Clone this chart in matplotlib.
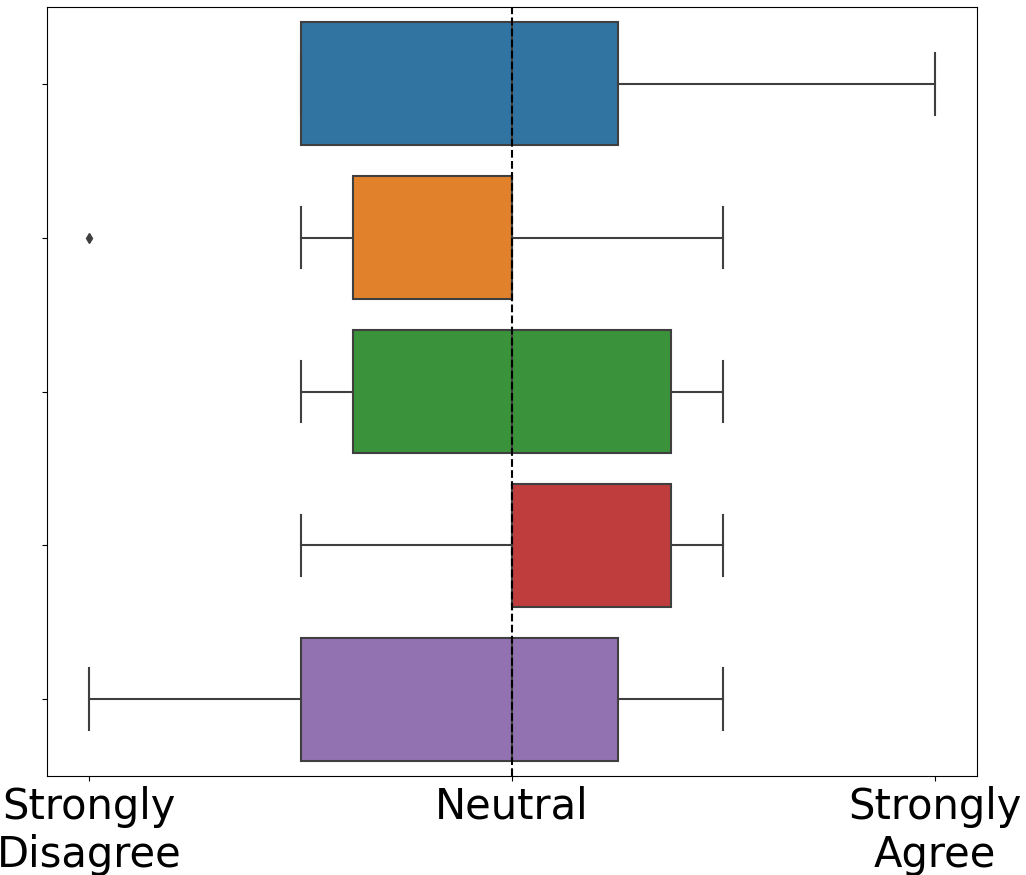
import matplotlib
matplotlib.use("Agg")
import matplotlib.pyplot as plt

# Likert scale 1..5, per-question box statistics
QUESTIONS = ["Q1", "Q2", "Q3", "Q4", "Q5"]
WHISK_LO = [2.0, 2.0, 2.0, 2.0, 1.0]
Q1 = [2.0, 2.25, 2.25, 3.0, 2.0]
MEDIAN = [3.0, 3.0, 3.0, 3.0, 3.0]
Q3 = [3.5, 3.0, 3.75, 3.75, 3.5]
WHISK_HI = [5.0, 4.0, 4.0, 4.0, 4.0]
OUTLIERS = [[], [1.0], [], [], []]

TICK_VALUES = [1, 3, 5]
TICK_LABELS = ["Strongly\nDisagree", "Neutral", "Strongly\nAgree"]

COLORS = ["#3274a1", "#e1812c", "#3a923a", "#c03d3e", "#9372b2"]
EDGE = "#3f3f3f"

stats = []
for i, name in enumerate(QUESTIONS):
    stats.append(dict(label=name, whislo=WHISK_LO[i], q1=Q1[i], med=MEDIAN[i],
                      q3=Q3[i], whishi=WHISK_HI[i], fliers=OUTLIERS[i]))

fig = plt.figure(figsize=(10.26, 8.75), dpi=100)
ax = fig.add_axes([47 / 1026, 1 - 776 / 875, 930 / 1026, 769 / 875])

line_kw = dict(color=EDGE, linewidth=1.5)
bp = ax.bxp(stats, positions=range(len(QUESTIONS)), widths=0.8, vert=False,
            patch_artist=True,
            boxprops=dict(edgecolor=EDGE, linewidth=1.5),
            medianprops=line_kw, whiskerprops=line_kw, capprops=line_kw,
            flierprops=dict(marker="d", markerfacecolor=EDGE, markeredgecolor=EDGE,
                            markersize=5))
for patch, c in zip(bp["boxes"], COLORS):
    patch.set_facecolor(c)

ax.axvline(3, color="black", linestyle="--", linewidth=1.5, zorder=5)

ax.set_xlim(0.8, 5.2)
ax.set_ylim(4.5, -0.5)
ax.set_yticks(range(len(QUESTIONS)))
ax.set_yticklabels([])
ax.set_xticks(TICK_VALUES)
ax.set_xticklabels(TICK_LABELS, fontsize=30)

fig.savefig("out.png", dpi=100)
